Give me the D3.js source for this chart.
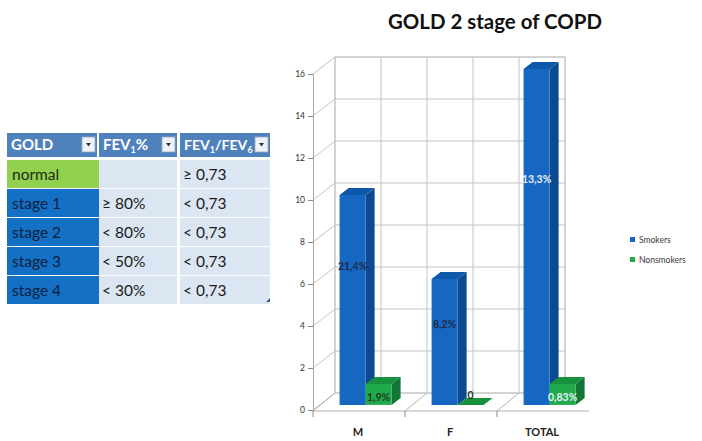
<!DOCTYPE html>
<html><head><meta charset="utf-8">
<script src="https://cdn.jsdelivr.net/npm/d3@7/dist/d3.min.js"></script>
<style>
html,body{margin:0;padding:0;background:#fff;}
svg{display:block;font-family:Lato,"Open Sans",sans-serif;}
</style></head><body>
<svg id="chart" width="702" height="441"></svg>
<script>
// ---------- data ----------
const categories = ["M", "F", "TOTAL"];
const seriesNames = ["Smokers", "Nonsmokers"];
const smokers = [10, 6, 16];
const nonsmokers = [1, 0, 1];
const smokersLabels = ["21,4%", "8,2%", "13,3%"];
const nonsmokersLabels = ["1,9%", "0", "0,83%"];
const yTicks = [0, 2, 4, 6, 8, 10, 12, 14, 16];
const title = "GOLD 2 stage of COPD";

const tableHeaders = [
  [{t: "GOLD"}],
  [{t: "FEV"}, {t: "1", sub: true}, {t: "%"}],
  [{t: "FEV"}, {t: "1", sub: true}, {t: "/FEV"}, {t: "6", sub: true}]
];
const goldStages = ["normal", "stage 1", "stage 2", "stage 3", "stage 4"];
const fev1Pct = ["", "≥ 80%", "< 80%", "< 50%", "< 30%"];
const fev1Fev6 = ["≥ 0,73", "< 0,73", "< 0,73", "< 0,73", "< 0,73"];

// ---------- setup ----------
const svg = d3.select("#chart");
const colors = {
  Smokers: {front: "#1567c2", side: "#0b4a8f", top: "#0e58ab"},
  Nonsmokers: {front: "#20a94b", side: "#137536", top: "#18913f"}
};

// ---------- table ----------
const colX = [7, 99, 180];
const colW = [90, 78, 90];
const headerY = 133, headerH = 24;
const rowY0 = 160, rowH = 29;
const tbl = svg.append("g");

tableHeaders.forEach((parts, c) => {
  tbl.append("rect").attr("x", colX[c]).attr("y", headerY).attr("width", colW[c]).attr("height", headerH).attr("fill", "#4f81bd");
  const t = tbl.append("text").attr("x", colX[c] + 4).attr("y", headerY + 17)
    .attr("fill", "#fff").attr("font-weight", "bold").attr("font-size", 15);
  parts.forEach((p, k) => {
    const ts = t.append("tspan").text(p.t);
    if (p.sub) ts.attr("font-size", 9).attr("dy", 3);
    else if (k > 0 && parts[k - 1].sub) ts.attr("dy", -3);
  });
  const maxW = colW[c] - 22;
  const tw = t.node().getComputedTextLength();
  if (tw > maxW) t.attr("font-size", 15 * maxW / tw);
  // dropdown button
  const bx = colX[c] + colW[c] - 15, by = headerY + 4;
  tbl.append("rect").attr("x", bx).attr("y", by).attr("width", 13).attr("height", 15)
    .attr("fill", "#eef1f6").attr("stroke", "#9aabc4").attr("stroke-width", 0.8);
  tbl.append("path").attr("d", `M${bx + 4},${by + 6}L${bx + 9},${by + 6}L${bx + 6.5},${by + 9.5}Z`).attr("fill", "#333");
});

goldStages.forEach((s, r) => {
  const y0 = rowY0 + r * rowH;
  tbl.append("rect").attr("x", colX[0]).attr("y", y0).attr("width", colW[0] + 2).attr("height", rowH - 1)
    .attr("fill", r === 0 ? "#92d050" : "#1470c4");
  tbl.append("rect").attr("x", colX[1]).attr("y", y0).attr("width", colW[1]).attr("height", rowH - 1).attr("fill", "#dce6f2");
  tbl.append("rect").attr("x", colX[2]).attr("y", y0).attr("width", colW[2]).attr("height", rowH - 1).attr("fill", "#dce6f2");
  tbl.append("text").attr("x", colX[0] + 5).attr("y", y0 + 20).attr("font-size", 15.5)
    .attr("fill", r === 0 ? "#1b2a10" : "#0e1f3c").text(s);
  tbl.append("text").attr("x", colX[1] + 3).attr("y", y0 + 20).attr("font-size", 15.5).attr("fill", "#1a1a22").text(fev1Pct[r]);
  tbl.append("text").attr("x", colX[2] + 3).attr("y", y0 + 20).attr("font-size", 15.5).attr("fill", "#1a1a22").text(fev1Fev6[r]);
});
// resize handle
tbl.append("path").attr("d", "M270,298L270,302L266,302Z").attr("fill", "#2f5fa0");

// ---------- chart ----------
const x = d3.scaleBand().domain(categories).range([313, 589]).padding(0);
const bw = x.bandwidth();
const x1 = d3.scaleBand().domain(seriesNames).range([0, bw]).paddingInner(0).paddingOuter(20 / 26);
const y = d3.scaleLinear().domain([0, 16]).range([410, 74]);
const DX = 22, DY = -17;
const F0 = 0.3, F1 = 0.71;
const P = (xf, v, d) => [xf + d * DX, y(v) + d * DY];
const poly = pts => "M" + pts.map(p => p.join(",")).join("L") + "Z";

const g = svg.append("g");
const grid = "#c4c4c4";
const x0 = x.range()[0];
const wallCols = d3.range(6).map(i => x0 + i * bw / 2);
const wallRight = wallCols[wallCols.length - 1];

// back wall
g.append("rect").attr("x", x0 + DX).attr("y", y(16) + DY).attr("width", wallRight - x0).attr("height", y(0) - y(16))
  .attr("fill", "#fff").attr("stroke", grid);
yTicks.forEach(v => {
  const a = P(x0, v, 1), b = P(wallRight, v, 1);
  g.append("line").attr("x1", a[0]).attr("y1", a[1]).attr("x2", b[0]).attr("y2", b[1]).attr("stroke", grid);
  const f = P(x0, v, 0);
  g.append("line").attr("x1", f[0]).attr("y1", f[1]).attr("x2", a[0]).attr("y2", a[1]).attr("stroke", grid);
});
wallCols.forEach(xc => {
  const a = P(xc, 0, 1), b = P(xc, 16, 1);
  g.append("line").attr("x1", a[0]).attr("y1", a[1]).attr("x2", b[0]).attr("y2", b[1]).attr("stroke", grid);
});
// floor
{
  const a = P(x0, 0, 0), b = P(x.range()[1], 0, 0);
  g.append("line").attr("x1", a[0]).attr("y1", a[1] + 1).attr("x2", b[0]).attr("y2", b[1] + 1).attr("stroke", "#b0b0b0");
  categories.forEach(c => {
    const p = P(x(c), 0, 0), q = P(x(c), 0, 1);
    g.append("line").attr("x1", p[0]).attr("y1", p[1] + 1).attr("x2", q[0]).attr("y2", q[1]).attr("stroke", "#b0b0b0");
    g.append("line").attr("x1", p[0]).attr("y1", p[1] + 1).attr("x2", p[0]).attr("y2", p[1] + 7).attr("stroke", "#888");
  });
}
// front value axis
const yAxis = d3.axisLeft(y).tickValues(yTicks).tickSize(5).tickPadding(3).tickFormat(d3.format("d"));
const ya = g.append("g").attr("transform", `translate(${x0},0)`).call(yAxis);
ya.select(".domain").attr("stroke", "#a8a8a8");
ya.selectAll(".tick line").attr("stroke", "#888");
ya.selectAll(".tick text").attr("font-size", 8.5).attr("fill", "#333").attr("font-family", "Lato, sans-serif");

// category labels
g.selectAll(".cat").data(categories).join("text")
  .attr("x", d => x(d) + bw / 2 - 1).attr("y", 436).attr("text-anchor", "middle")
  .attr("font-weight", "bold").attr("font-size", 11).attr("fill", "#222").text(d => d);

// bars
const series = [
  {name: "Smokers", values: smokers, labels: smokersLabels},
  {name: "Nonsmokers", values: nonsmokers, labels: nonsmokersLabels}
];
categories.forEach((c, i) => {
  series.forEach(s => {
    const v = s.values[i];
    const xl = x(c) + x1(s.name), xr = xl + x1.bandwidth();
    const col = colors[s.name];
    const bg = g.append("g");
    if (v > 0) {
      bg.append("path").attr("d", poly([P(xr, 0, F0), P(xr, 0, F1), P(xr, v, F1), P(xr, v, F0)])).attr("fill", col.side);
      bg.append("path").attr("d", poly([P(xl, 0, F0), P(xr, 0, F0), P(xr, v, F0), P(xl, v, F0)])).attr("fill", col.front);
    }
    bg.append("path").attr("d", poly([P(xl, v, F0), P(xr, v, F0), P(xr, v, F1), P(xl, v, F1)])).attr("fill", col.top);
  });
});
// labels (after all bars)
categories.forEach((c, i) => {
  series.forEach((s, si) => {
    const v = s.values[i];
    const xl = x(c) + x1(s.name);
    const cx = xl + x1.bandwidth() / 2 + F0 * DX;
    let cy;
    if (si === 0) cy = y(v * 0.69) + 1;
    else cy = v > 0 ? y(v / 2) + F0 * DY + 3 : y(0) + F0 * DY - 10;
    const light = (c === "TOTAL");
    g.append("text").attr("x", cx).attr("y", cy).attr("dy", "0.35em").attr("text-anchor", "middle")
      .attr("font-size", 10.5).attr("font-weight", "bold")
      .attr("fill", light ? "#e6effa" : (si === 0 ? "#1c2b4a" : "#1d3a22"))
      .text(s.labels[i]);
  });
});

// legend
const leg = svg.append("g");
seriesNames.forEach((n, k) => {
  const ly = 240 + k * 20;
  leg.append("rect").attr("x", 630).attr("y", ly - 3).attr("width", 5).attr("height", 5).attr("fill", colors[n].front);
  leg.append("text").attr("x", 639).attr("y", ly).attr("dy", "0.35em").attr("font-size", 8.5).attr("fill", "#3a3a3a").text(n);
});

// title
const tt = svg.append("text").attr("x", 495).attr("y", 29).attr("text-anchor", "middle")
  .attr("font-weight", "bold").attr("font-size", 20).attr("fill", "#111").text(title);
const w = tt.node().getComputedTextLength();
tt.attr("font-size", 20 * 214 / w);
</script>
</body></html>
